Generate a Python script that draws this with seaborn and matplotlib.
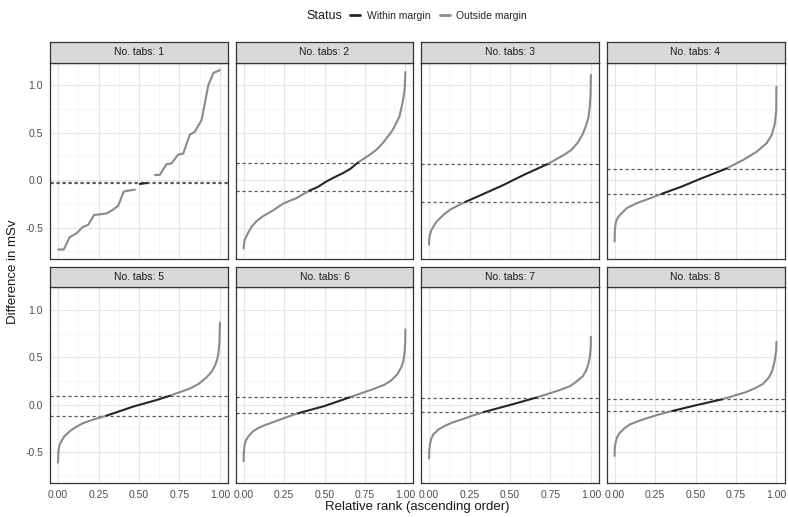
import matplotlib
matplotlib.use("Agg")
import matplotlib.pyplot as plt
import pandas as pd
import seaborn as sns
from matplotlib.lines import Line2D
from matplotlib.ticker import FixedLocator

# ---------------- data ----------------
TABS = [1, 2, 3, 4, 5, 6, 7, 8]

RANK_1 = [0.0, 0.035, 0.072, 0.114, 0.151, 0.186, 0.223, 0.258, 0.30, 0.34, 0.371, 0.406, 0.433, 0.474,
          0.505, 0.547,
          0.598, 0.629, 0.67, 0.70, 0.742, 0.773, 0.814, 0.845, 0.887, 0.928, 0.96, 1.0]
DIFF_1 = [-0.73, -0.73, -0.60, -0.56, -0.495, -0.47, -0.365, -0.36, -0.35, -0.31, -0.27, -0.12, -0.11, -0.10,
          -0.04, -0.03,
          0.056, 0.056, 0.17, 0.175, 0.27, 0.28, 0.48, 0.51, 0.635, 1.0, 1.13, 1.16]
SEG_1 = ["lo"] * 14 + ["in"] * 2 + ["hi"] * 12

RANK_2 = [0.0, 0.006, 0.026, 0.05, 0.078, 0.119, 0.15, 0.18, 0.242, 0.28, 0.325, 0.407,
          0.407, 0.46, 0.51, 0.56, 0.613, 0.66, 0.706,
          0.706, 0.778, 0.82, 0.86, 0.922, 0.963, 0.984, 0.995, 1.0]
DIFF_2 = [-0.72, -0.63, -0.56, -0.49, -0.435, -0.38, -0.35, -0.32, -0.25, -0.22, -0.19, -0.11,
          -0.11, -0.07, -0.015, 0.03, 0.074, 0.12, 0.185,
          0.185, 0.266, 0.32, 0.39, 0.53, 0.67, 0.83, 0.95, 1.14]
SEG_2 = ["lo"] * 12 + ["in"] * 7 + ["hi"] * 9

RANK_3 = [0.0, 0.001, 0.005, 0.013, 0.026, 0.045, 0.068, 0.095, 0.13, 0.175, 0.223,
          0.223, 0.337, 0.46, 0.585, 0.73,
          0.73, 0.833, 0.88, 0.916, 0.945, 0.968, 0.985, 0.993, 0.998, 1.0]
DIFF_3 = [-0.68, -0.62, -0.576, -0.53, -0.49, -0.44, -0.40, -0.355, -0.31, -0.27, -0.23,
          -0.23, -0.144, -0.05, 0.056, 0.168,
          0.168, 0.266, 0.32, 0.39, 0.47, 0.565, 0.66, 0.775, 0.9, 1.11]
SEG_3 = ["lo"] * 11 + ["in"] * 5 + ["hi"] * 10

RANK_4 = [0.0, 0.001, 0.004, 0.009, 0.018, 0.033, 0.075, 0.137, 0.22, 0.291,
          0.291, 0.415, 0.538, 0.693,
          0.693, 0.795, 0.878, 0.94, 0.971, 0.991, 0.999, 1.0]
DIFF_4 = [-0.646, -0.56, -0.49, -0.435, -0.4, -0.365, -0.295, -0.242, -0.19, -0.144,
          -0.144, -0.067, 0.02, 0.124,
          0.124, 0.214, 0.30, 0.39, 0.477, 0.60, 0.74, 0.985]
SEG_4 = ["lo"] * 10 + ["in"] * 4 + ["hi"] * 8

RANK_5 = [0.0, 0.001, 0.003, 0.008, 0.02, 0.04, 0.072, 0.11, 0.155, 0.22, 0.30,
          0.30, 0.464, 0.608, 0.69,
          0.69, 0.814, 0.87, 0.918, 0.95, 0.969, 0.982, 0.99, 0.997, 1.0]
DIFF_5 = [-0.61, -0.54, -0.48, -0.43, -0.385, -0.33, -0.28, -0.235, -0.194, -0.155, -0.115,
          -0.115, -0.02, 0.049, 0.094,
          0.094, 0.17, 0.22, 0.29, 0.35, 0.41, 0.47, 0.535, 0.65, 0.865]
SEG_5 = ["lo"] * 11 + ["in"] * 4 + ["hi"] * 10

RANK_6 = [0.0, 0.001, 0.005, 0.013, 0.03, 0.055, 0.09, 0.14, 0.194, 0.26, 0.337,
          0.337, 0.50, 0.655,
          0.655, 0.81, 0.87, 0.913, 0.95, 0.975, 0.987, 0.994, 0.999, 1.0]
DIFF_6 = [-0.594, -0.52, -0.4375, -0.38, -0.333, -0.285, -0.246, -0.21, -0.177, -0.135, -0.09,
          -0.09, -0.014, 0.077,
          0.077, 0.17, 0.21, 0.257, 0.32, 0.396, 0.46, 0.535, 0.65, 0.795]
SEG_6 = ["lo"] * 11 + ["in"] * 3 + ["hi"] * 10

RANK_7 = [0.0, 0.001, 0.005, 0.013, 0.025, 0.055, 0.09, 0.14, 0.194, 0.26, 0.337,
          0.337, 0.50, 0.663,
          0.663, 0.806, 0.87, 0.908, 0.95, 0.97, 0.985, 0.993, 0.999, 1.0]
DIFF_7 = [-0.566, -0.49, -0.42, -0.36, -0.316, -0.265, -0.23, -0.19, -0.16, -0.12, -0.078,
          -0.078, -0.003, 0.075,
          0.075, 0.153, 0.195, 0.24, 0.30, 0.36, 0.43, 0.5, 0.6, 0.716]
SEG_7 = ["lo"] * 11 + ["in"] * 3 + ["hi"] * 10

RANK_8 = [0.0, 0.001, 0.006, 0.015, 0.03, 0.06, 0.092, 0.15, 0.204, 0.28, 0.357,
          0.357, 0.51, 0.663,
          0.663, 0.816, 0.87, 0.918, 0.955, 0.975, 0.985, 0.993, 0.999, 1.0]
DIFF_8 = [-0.54, -0.46, -0.40, -0.345, -0.30, -0.25, -0.21, -0.17, -0.14, -0.10, -0.066,
          -0.066, -0.003, 0.056,
          0.056, 0.135, 0.175, 0.22, 0.29, 0.36, 0.43, 0.5, 0.58, 0.664]
SEG_8 = ["lo"] * 11 + ["in"] * 3 + ["hi"] * 10

MARGIN_LO = [-0.028, -0.11, -0.23, -0.144, -0.115, -0.09, -0.078, -0.066]
MARGIN_HI = [-0.024, 0.185, 0.168, 0.122, 0.094, 0.078, 0.075, 0.056]

X_TICKS = [0.0, 0.25, 0.5, 0.75, 1.0]
X_TICK_LABELS = ["0.00", "0.25", "0.50", "0.75", "1.00"]
Y_TICKS = [-0.5, 0.0, 0.5, 1.0]
Y_TICK_LABELS = ["-0.5", "0.0", "0.5", "1.0"]

STATUS_LABELS = ["Within margin", "Outside margin"]

RANKS = [RANK_1, RANK_2, RANK_3, RANK_4, RANK_5, RANK_6, RANK_7, RANK_8]
DIFFS = [DIFF_1, DIFF_2, DIFF_3, DIFF_4, DIFF_5, DIFF_6, DIFF_7, DIFF_8]
SEGS = [SEG_1, SEG_2, SEG_3, SEG_4, SEG_5, SEG_6, SEG_7, SEG_8]

rows = []
for t, r, d, s in zip(TABS, RANKS, DIFFS, SEGS):
    for ri, di, si in zip(r, d, s):
        rows.append({"tabs": t, "rank": ri, "diff": di, "seg": si,
                     "status": STATUS_LABELS[0] if si == "in" else STATUS_LABELS[1]})
df = pd.DataFrame(rows)

# ---------------- style ----------------
sns.set_theme(style="white")
plt.rcParams["font.family"] = ["Liberation Sans", "DejaVu Sans"]

COL_IN = "#262626"
COL_OUT = "#8a8a8a"
PALETTE = {STATUS_LABELS[0]: COL_IN, STATUS_LABELS[1]: COL_OUT}

W, H = 788, 517
fig = plt.figure(figsize=(W / 100, H / 100), dpi=100)

lefts = [50, 235.5, 421, 606.5]
pw = 178
row_tops = [62.5, 287]
ph = 196
strip_h = 20.5

YLIM = (-0.825, 1.24)
XLIM = (-0.05, 1.05)

for i, t in enumerate(TABS):
    r, c = divmod(i, 4)
    l = lefts[c]
    top = row_tops[r]
    ax = fig.add_axes([l / W, 1 - (top + ph) / H, pw / W, ph / H])
    ax.set_facecolor("white")
    sub = df[df["tabs"] == t]
    sns.lineplot(data=sub, x="rank", y="diff", hue="status", units="seg",
                 estimator=None, sort=False, palette=PALETTE, legend=False,
                 linewidth=1.5, ax=ax, zorder=3)
    for m in (MARGIN_LO[i], MARGIN_HI[i]):
        ax.axhline(m, color="#5a5a5a", linewidth=0.9, linestyle=(0, (2.6, 2.2)), zorder=2)
    ax.set_xlim(*XLIM)
    ax.set_ylim(*YLIM)
    ax.xaxis.set_major_locator(FixedLocator(X_TICKS))
    ax.yaxis.set_major_locator(FixedLocator(Y_TICKS))
    ax.xaxis.set_minor_locator(FixedLocator([0.125, 0.375, 0.625, 0.875]))
    ax.yaxis.set_minor_locator(FixedLocator([-0.75, -0.25, 0.25, 0.75]))
    ax.grid(which="major", color="#e6e6e6", linewidth=0.8, zorder=0)
    ax.grid(which="minor", color="#f2f2f2", linewidth=0.5, zorder=0)
    ax.set_axisbelow(True)
    for sp in ax.spines.values():
        sp.set_color("#333333")
        sp.set_linewidth(0.9)
    ax.tick_params(which="minor", length=0)
    ax.tick_params(which="major", length=3, width=0.7, color="#333333",
                   labelsize=7.5, labelcolor="#4d4d4d", pad=2)
    if c == 0:
        ax.set_yticklabels(Y_TICK_LABELS)
    else:
        ax.tick_params(axis="y", which="major", length=0, labelleft=False)
    if r == 1:
        ax.set_xticklabels(X_TICK_LABELS)
    else:
        ax.tick_params(axis="x", which="major", length=0, labelbottom=False)
    ax.set_xlabel("")
    ax.set_ylabel("")

    # facet strip
    sax = fig.add_axes([l / W, 1 - top / H, pw / W, strip_h / H])
    sax.set_facecolor("#d9d9d9")
    sax.set_xticks([])
    sax.set_yticks([])
    for sp in sax.spines.values():
        sp.set_color("#333333")
        sp.set_linewidth(0.9)
    sax.text(0.5, 0.5, f"No. tabs: {t}", ha="center", va="center",
             fontsize=7.5, color="#1a1a1a", transform=sax.transAxes)

# axis titles
fig.text((lefts[0] + lefts[3] + pw) / 2 / W, 1 - 507 / H,
         "Relative rank (ascending order)", ha="center", va="center",
         fontsize=9.5, color="#1a1a1a")
fig.text(13 / W, 1 - 272 / H, "Difference in mSv", ha="center", va="center",
         rotation=90, fontsize=9.5, color="#1a1a1a")

# legend
fig.text(306 / W, 1 - 16 / H, "Status", ha="left", va="center",
         fontsize=9, color="#1a1a1a")
handles = [Line2D([], [], color=COL_IN, linewidth=2.0),
           Line2D([], [], color=COL_OUT, linewidth=2.0)]
fig.legend(handles, STATUS_LABELS, ncol=2, loc="center left",
           bbox_to_anchor=(350 / W, 1 - 16 / H), frameon=False, fontsize=7.5,
           handlelength=1.0, handletextpad=0.6, columnspacing=0.9,
           borderpad=0, borderaxespad=0)

fig.savefig("out.png", dpi=100)
